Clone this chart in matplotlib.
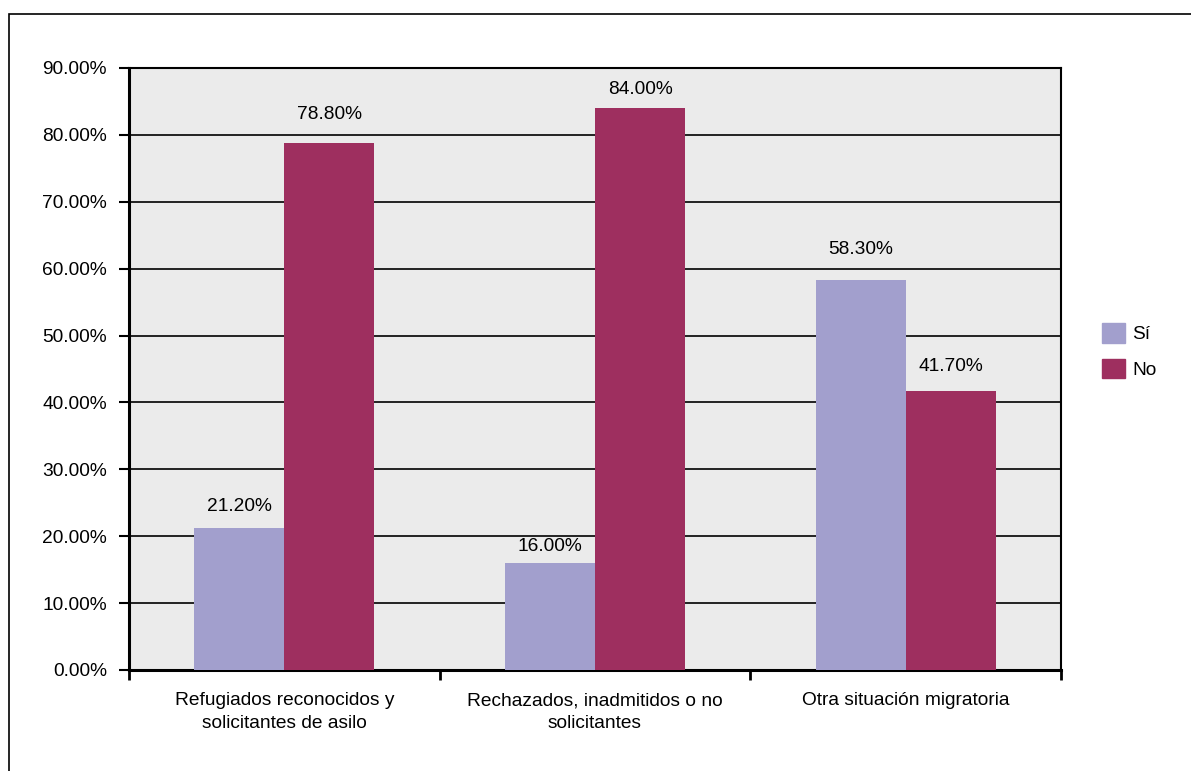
import matplotlib.pyplot as plt
import numpy as np
from matplotlib.patches import Rectangle, Patch
from matplotlib.ticker import PercentFormatter

categorias = ["Refugiados reconocidos y\nsolicitantes de asilo",
              "Rechazados, inadmitidos o no\nsolicitantes",
              "Otra situación migratoria"]
si = [21.2, 16.0, 58.3]
no = [78.8, 84.0, 41.7]
etiquetas_si = ["21.20%", "16.00%", "58.30%"]
etiquetas_no = ["78.80%", "84.00%", "41.70%"]

# separación de cada etiqueta sobre su barra (en puntos porcentuales)
sep_si = [3.2, 2.5, 4.6]
sep_no = [4.2, 2.8, 3.7]

plt.rcParams['font.family'] = ['Liberation Sans', 'DejaVu Sans']
fs = 13.8

color_si = "#a29fcd"
color_no = "#9e2f5f"

fig = plt.figure(figsize=(11.91, 7.71), dpi=100)
# marco exterior del gráfico
fig.patches.append(Rectangle((9 / 1191, -0.01), 1.02, 1 - 14 / 771 + 0.01,
                             transform=fig.transFigure, fill=False,
                             edgecolor="black", linewidth=1.2))

ax = fig.add_axes([129 / 1191, 1 - 670 / 771, (1061 - 129) / 1191, (670 - 68) / 771])
ax.set_facecolor("#ebebeb")

x = np.arange(len(categorias))
w = 0.29
b1 = ax.bar(x - w / 2, si, w, color=color_si, zorder=3)
b2 = ax.bar(x + w / 2, no, w, color=color_no, zorder=3)

for rect, txt, d in zip(b1, etiquetas_si, sep_si):
    ax.text(rect.get_x() + rect.get_width() / 2, rect.get_height() + d, txt,
            ha="center", va="center", fontsize=fs)
for rect, txt, d in zip(b2, etiquetas_no, sep_no):
    ax.text(rect.get_x() + rect.get_width() / 2, rect.get_height() + d, txt,
            ha="center", va="center", fontsize=fs)

ax.set_xlim(-0.5, 2.5)
ax.set_ylim(0, 90)
ax.set_yticks(np.arange(0, 91, 10))
ax.yaxis.set_major_formatter(PercentFormatter(decimals=2))
ax.grid(axis="y", color="black", linewidth=1.2, zorder=1)
ax.set_axisbelow(True)

# marcas del eje x en los límites de cada categoría
ax.set_xticks([-0.5, 0.5, 1.5, 2.5])
ax.set_xticklabels([])
ax.set_xticks(x, minor=True)
ax.set_xticklabels(categorias, minor=True, fontsize=fs, linespacing=1.45)
ax.tick_params(axis="x", which="minor", length=0, pad=16)
ax.tick_params(axis="x", which="major", length=7, width=2, direction="out")
ax.tick_params(axis="y", length=7, width=1.5, direction="out", pad=9, labelsize=fs)

for s in ["left", "bottom"]:
    ax.spines[s].set_linewidth(2.2)
for s in ["top", "right"]:
    ax.spines[s].set_linewidth(1.5)

ax.legend(handles=[Patch(color=color_si, label="Sí"), Patch(color=color_no, label="No")],
          loc="center left", bbox_to_anchor=(1.025, 0.53), frameon=False,
          handlelength=1.2, handleheight=1.2, labelspacing=0.8, handletextpad=0.4,
          fontsize=fs)

fig.savefig("out.png", dpi=100)
